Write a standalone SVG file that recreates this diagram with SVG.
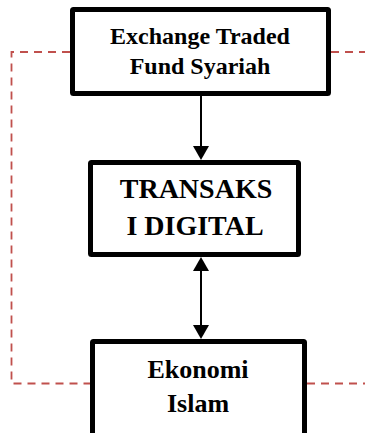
<svg xmlns="http://www.w3.org/2000/svg" width="365" height="433" viewBox="0 0 365 433">
<style>
.box{fill:#fff;stroke:#000;stroke-width:5;stroke-linejoin:round}
.t{font-family:"Liberation Serif","Times New Roman",serif;font-weight:bold;fill:#000;text-anchor:middle}
.dash{fill:none;stroke:#c0504d;stroke-width:1.8;stroke-dasharray:8 6}
.ln{stroke:#000;stroke-width:2;fill:none}
</style>
<rect width="365" height="433" fill="#fff"/>
<g id="connectors">
<polyline class="dash" points="70,52 11.5,52 11.5,383.5 90,383.5"/>
<line class="dash" x1="331" y1="52" x2="365" y2="52"/>
<line class="dash" x1="307" y1="383.5" x2="365" y2="383.5"/>
<line class="ln" x1="201" y1="96" x2="201" y2="147"/>
<polygon points="201,160 193,146 209,146" fill="#000"/>
<line class="ln" x1="201" y1="270" x2="201" y2="326"/>
<polygon points="201,257 193,271 209,271" fill="#000"/>
<polygon points="201,339 193,325 209,325" fill="#000"/>
</g>
<g id="etf">
<rect class="box" x="72.5" y="9.5" width="256" height="84" rx="1"/>
<text class="t" x="200" y="44" font-size="24">Exchange Traded</text>
<text class="t" x="200" y="73.5" font-size="24">Fund Syariah</text>
</g>
<g id="transaksi">
<rect class="box" x="90.5" y="162.5" width="208" height="92" rx="1"/>
<text class="t" x="196" y="198" font-size="28">TRANSAKS</text>
<text class="t" x="195" y="235" font-size="28">I DIGITAL</text>
</g>
<g id="ekonomi">
<rect class="box" x="92.5" y="341.5" width="212" height="100" rx="1"/>
<text class="t" x="198" y="378" font-size="26">Ekonomi</text>
<text class="t" x="198" y="411.5" font-size="26">Islam</text>
</g>
</svg>
